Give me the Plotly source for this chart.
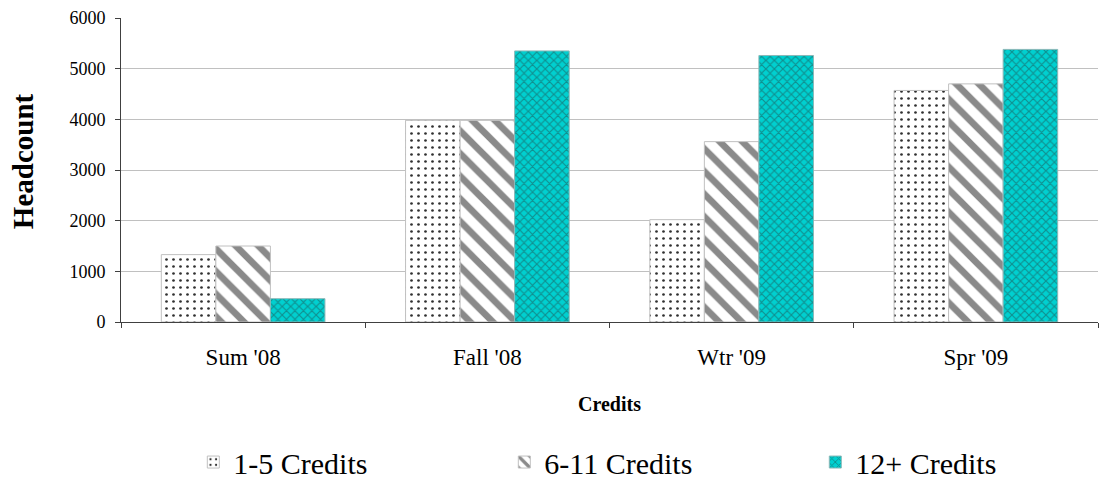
import plotly.graph_objects as go

categories = ["Sum '08", "Fall '08", "Wtr '09", "Spr '09"]
credits_1_5 = [1330, 3980, 2020, 4570]
credits_6_11 = [1500, 3980, 3560, 4700]
credits_12p = [460, 5350, 5260, 5380]
series_names = ["1-5 Credits", "6-11 Credits", "12+ Credits"]
y_ticks = [0, 1000, 2000, 3000, 4000, 5000, 6000]

font = "Liberation Serif"

fig = go.Figure()
fig.add_trace(go.Bar(
    x=categories, y=credits_1_5, name=series_names[0],
    marker=dict(color="white", line=dict(color="#c0c0c0", width=1),
                pattern=dict(shape=".", fgcolor="#303030", bgcolor="white", fgopacity=1,
                             size=7, solidity=0.12)),
))
fig.add_trace(go.Bar(
    x=categories, y=credits_6_11, name=series_names[1],
    marker=dict(color="white", line=dict(color="#c0c0c0", width=1),
                pattern=dict(shape="\\", fgcolor="#8a8a8a", bgcolor="white", fgopacity=1,
                             size=16, solidity=0.42)),
))
fig.add_trace(go.Bar(
    x=categories, y=credits_12p, name=series_names[2],
    marker=dict(color="#00c8c8", line=dict(color="#8ab8b8", width=1),
                pattern=dict(shape="x", fgcolor="#108f8f", bgcolor="#00d0d0", fgopacity=1,
                             size=6, solidity=0.35)),
))

fig.update_layout(
    width=1102, height=471,
    margin=dict(l=113, r=12, t=10, b=157, autoexpand=False),
    paper_bgcolor="white", plot_bgcolor="white",
    barmode="group", bargap=0.33, bargroupgap=0,
    font=dict(family=font, color="black", size=18),
    showlegend=True,
    legend=dict(orientation="h", x=0.074, xanchor="left", yref="container", y=0.036, yanchor="middle",
                font=dict(family=font, size=30), entrywidth=266, itemwidth=30,
                traceorder="normal"),
    xaxis=dict(
        title=dict(text="<b>Credits</b>", font=dict(family=font, size=20), standoff=28),
        showline=True, linecolor="#404040", linewidth=1,
        ticks="outside", tickson="boundaries", ticklen=5, tickcolor="#404040",
        tickfont=dict(family=font, size=23), ticklabelstandoff=14,
        showgrid=False, automargin=False,
    ),
    yaxis=dict(
        range=[0, 6000], tickvals=y_ticks,
        showline=True, linecolor="#404040", linewidth=1,
        ticks="outside", ticklen=5, tickcolor="#404040",
        tickfont=dict(family=font, size=18), ticklabelstandoff=6,
        showgrid=True, gridcolor="#c0c0c0", gridwidth=1,
        zeroline=False, automargin=False,
    ),
    annotations=[dict(
        text="<b>Headcount</b>", textangle=-90, xref="paper", yref="paper",
        x=-0.1, y=0.53, xanchor="center", yanchor="middle", showarrow=False,
        font=dict(family=font, size=29, color="black"),
    )],
)

fig.write_html("out.html")
